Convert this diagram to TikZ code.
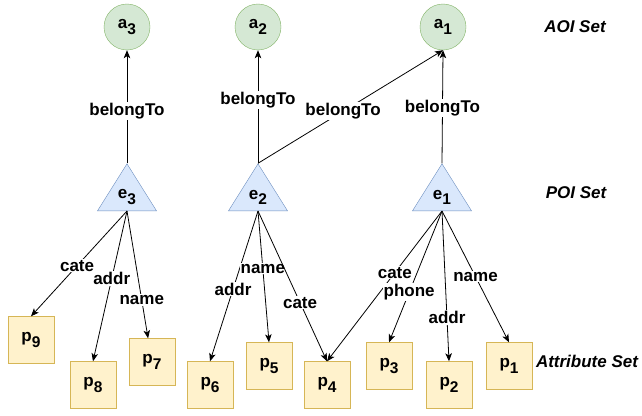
\documentclass[tikz,border=0pt]{standalone}
\usepackage{fontspec}
\setmainfont{Liberation Sans}
\usetikzlibrary{arrows.meta,shapes.geometric}
\definecolor{aoifill}{HTML}{D5E8D4}
\definecolor{aoiline}{HTML}{82B366}
\definecolor{poifill}{HTML}{DAE8FC}
\definecolor{poiline}{HTML}{6C8EBF}
\definecolor{attrfill}{HTML}{FFF2CC}
\definecolor{attrline}{HTML}{D6B656}
\newcommand\subidx[1]{\raisebox{-5.5pt}{\fontsize{15.5}{15.5}\selectfont #1}}
\tikzset{
  every node/.style={font=\fontsize{17}{20}\selectfont\bfseries},
  aoi/.style={circle, draw=aoiline, fill=aoifill, minimum size=46pt, inner sep=0pt},
  poi/.style={isosceles triangle, shape border rotate=90, isosceles triangle stretches,
    draw=poiline, fill=poifill, minimum width=59pt, minimum height=47pt, inner sep=0pt},
  attr/.style={rectangle, draw=attrline, fill=attrfill, minimum width=46pt, minimum height=47pt, inner sep=0pt},
  rel/.style={draw=black, line width=0.8pt, -{Stealth[length=8pt,width=6.5pt,inset=2pt]}},
  lbl/.style={fill=white, inner sep=1pt},
  setname/.style={font=\fontsize{17}{20}\selectfont\bfseries\itshape}
}
\begin{document}
\begin{tikzpicture}[x=1pt,y=-1pt]
\useasboundingbox (0,0) rectangle (642,415);

% AOI level
\node[aoi] (a3) at (127,27) {a\subidx{3}};
\node[aoi] (a2) at (258,27) {a\subidx{2}};
\node[aoi] (a1) at (443,27) {a\subidx{1}};

% POI level
\node[poi, anchor=lower side] (e3) at (127,211) {e\subidx{3}};
\node[poi, anchor=lower side] (e2) at (258,211) {e\subidx{2}};
\node[poi, anchor=lower side] (e1) at (442,211) {e\subidx{1}};

% attribute level
\node[attr] (p9) at (31,340) {p\subidx{9}};
\node[attr] (p8) at (93,385) {p\subidx{8}};
\node[attr] (p7) at (152,362) {p\subidx{7}};
\node[attr] (p6) at (210,385) {p\subidx{6}};
\node[attr] (p5) at (269,366) {p\subidx{5}};
\node[attr] (p4) at (327,385) {p\subidx{4}};
\node[attr] (p3) at (389,366) {p\subidx{3}};
\node[attr] (p2) at (449,385) {p\subidx{2}};
\node[attr] (p1) at (509,366) {p\subidx{1}};

% layer names
\node[setname] (aoiset) at (575,27) {AOI Set};
\node[setname] (poiset) at (576,193) {POI Set};
\node[setname] (attrset) at (587,361) {Attribute Set};

% belongTo relations
\draw[rel] (e3.apex) -- node[lbl, pos=0.46] {belongTo} (a3.south);
\draw[rel] (e2.apex) -- node[lbl, pos=0.56] {belongTo} (a2.south);
\draw[rel] (e2.apex) -- node[lbl, pos=0.46] {belongTo} (a1.south);
\draw[rel] (e1.apex) -- node[lbl, pos=0.49] {belongTo} (a1.south);

% attribute relations
\draw[rel] (e3.lower side) -- node[lbl, pos=0.52] {cate} (p9.north);
\draw[rel] (e3.lower side) -- node[lbl, pos=0.45] {addr} (p8.north);
\draw[rel] (e3.lower side) -- node[lbl, pos=0.70] {name} (p7);
\draw[rel] (e2.lower side) -- node[lbl, pos=0.52] {addr} (p6.north);
\draw[rel] (e2.lower side) -- node[lbl, pos=0.44] {name} (p5.north);
\draw[rel] (e2.lower side) -- node[lbl, pos=0.61] {cate} (p4.north);
\draw[rel] (e1.lower side) -- node[lbl, pos=0.41] {cate} (p4.north);
\draw[rel] (e1.lower side) -- node[lbl, pos=0.62] {phone} (p3.north);
\draw[rel] (e1.lower side) -- node[lbl, pos=0.71] {addr} (p2.north);
\draw[rel] (e1.lower side) -- node[lbl, pos=0.50] {name} (p1.north);
\end{tikzpicture}
\end{document}
